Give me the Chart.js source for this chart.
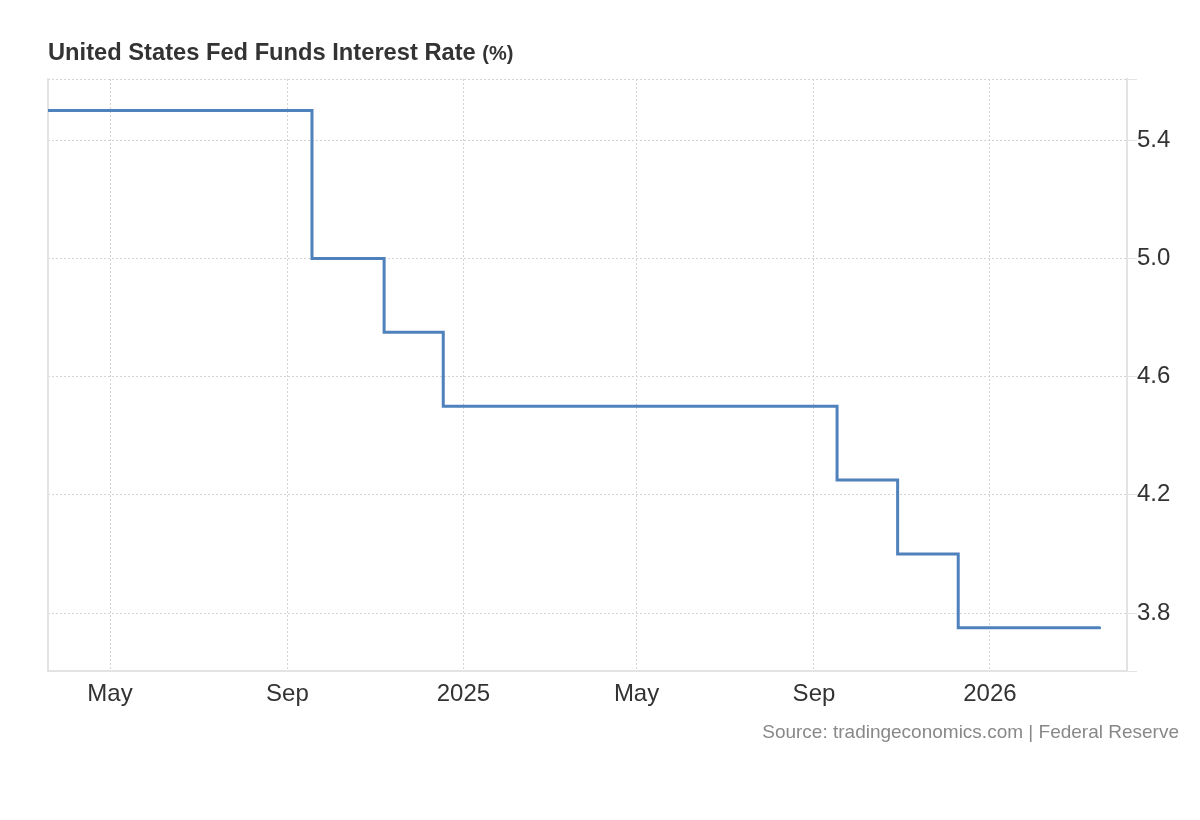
<!DOCTYPE html>
<html>
<head>
<meta charset="utf-8">
<title>United States Fed Funds Interest Rate</title>
<script src="https://cdn.jsdelivr.net/npm/chart.js@4.4.1/dist/chart.umd.min.js"></script>
<style>
  body { margin: 0; background: #fff; font-family: "Liberation Sans", Arial, sans-serif; }
  #wrap { position: relative; width: 1200px; height: 820px; }
  #chart { position: absolute; left: 0; top: 0; }
  .title { position: absolute; left: 48px; top: 41px; font-size: 23.7px; line-height: 1; font-weight: bold; color: #333; white-space: nowrap; }
  .title span { font-size: 20px; }
  .source { position: absolute; right: 21px; top: 722px; font-size: 19px; line-height: 1; color: #888; white-space: nowrap; }
</style>
</head>
<body>
<div id="wrap">
  <canvas id="chart" width="1200" height="820"></canvas>
  <div class="title">United States Fed Funds Interest Rate <span>(%)</span></div>
  <div class="source">Source: tradingeconomics.com | Federal Reserve</div>
</div>
<script>
// rate decisions (upper bound): new level from each date on
const rateDates = ["2024-03-19", "2024-09-18", "2024-11-07", "2024-12-18", "2025-09-17", "2025-10-29", "2025-12-10", "2026-03-18"];
const rateValues = [5.50, 5.00, 4.75, 4.50, 4.25, 4.00, 3.75, 3.75];

const tickDates = ["2024-05-01", "2024-09-01", "2025-01-01", "2025-05-01", "2025-09-01", "2026-01-01"];
const tickLabels = ["May", "Sep", "2025", "May", "Sep", "2026"];
const yTickValues = [3.8, 4.2, 4.6, 5.0, 5.4];

const xStart = "2024-03-19";
const xEnd = "2026-04-06";
const yMin = 3.604;
const yMax = 5.607;

const toDay = (s) => Date.parse(s + "T00:00:00Z") / 86400000;

const gridColor = "#d4d4d4";
const axisColor = "#e3e3e3";
const tickFont = { family: '"Liberation Sans", Arial, sans-serif', size: 24 };

new Chart(document.getElementById("chart"), {
    type: "line",
    data: {
        datasets: [
            {
                label: "Fed Funds Rate",
                data: rateDates.map((d, i) => ({ x: toDay(d), y: rateValues[i] })),
                borderColor: "#4f81bd",
                borderWidth: 3,
                stepped: "before",
                pointRadius: 0,
                fill: false,
                borderCapStyle: "round",
                yAxisID: "y",
            },
        ],
    },
    options: {
        responsive: false,
        animation: false,
        devicePixelRatio: 1,
        layout: { padding: { left: 48, top: 79, right: 0, bottom: 0 } },
        plugins: { legend: { display: false }, tooltip: { enabled: false } },
        scales: {
            x: {
                type: "linear",
                min: toDay(xStart),
                max: toDay(xEnd),
                afterBuildTicks: (s) => {
                    s.ticks = tickDates.map((d) => ({ value: toDay(d) }));
                },
                afterFit: (s) => { s.height = 149; },
                grid: { color: gridColor, lineWidth: 1, drawTicks: false },
                border: { color: axisColor, width: 2, dash: [2, 2] },
                ticks: {
                    autoSkip: false,
                    maxRotation: 0,
                    padding: 9,
                    color: "#333",
                    font: tickFont,
                    callback: (v, i) => tickLabels[i],
                },
            },
            y: {
                position: "right",
                min: yMin,
                max: yMax,
                afterBuildTicks: (s) => {
                    s.ticks = [yMin, ...yTickValues, yMax].map((v) => ({ value: v }));
                },
                afterFit: (s) => { s.width = 73; },
                grid: { color: gridColor, lineWidth: 1, tickColor: axisColor, tickLength: 10 },
                border: { color: axisColor, width: 2, dash: [2, 2] },
                ticks: {
                    padding: 0,
                    color: "#333",
                    font: tickFont,
                    callback: (v) => (yTickValues.includes(v) ? v.toFixed(1) : ""),
                },
            },
            // only here to draw the solid left edge of the plot
            yLeft: {
                position: "left",
                grid: { display: false, drawTicks: false },
                ticks: { display: false },
                border: { display: true, color: axisColor, width: 2 },
                afterFit: (s) => { s.width = 0; },
            },
        },
    },
});
</script>
</body>
</html>
